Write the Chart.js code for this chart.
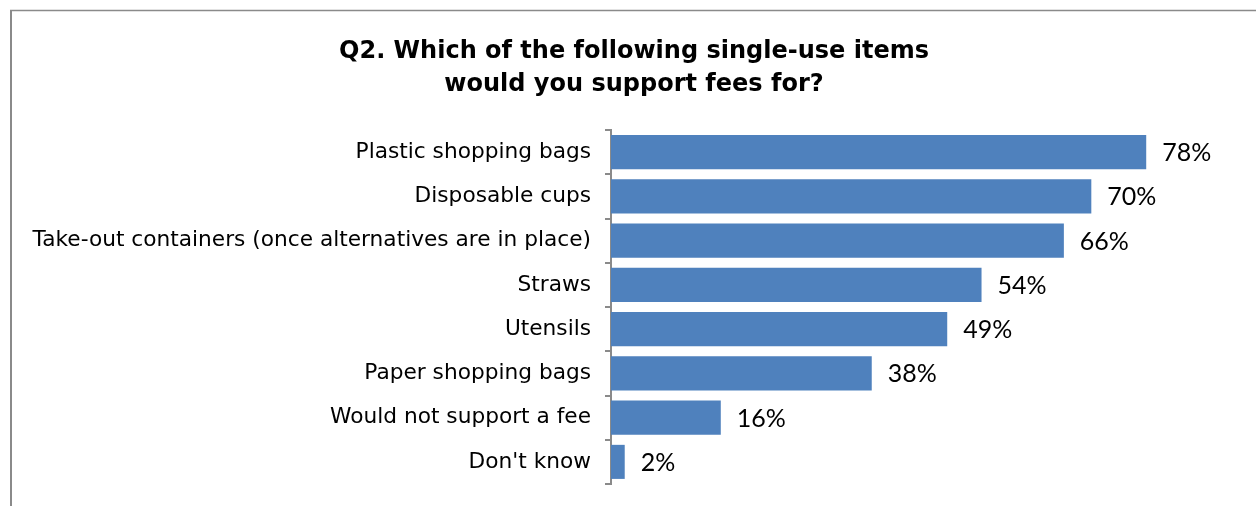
<!DOCTYPE html>
<html>
<head>
<meta charset="utf-8">
<script src="https://cdn.jsdelivr.net/npm/chart.js@4/dist/chart.umd.min.js"></script>
<style>
  html, body { margin: 0; padding: 0; background: #fff; overflow: hidden; }
  canvas { display: block; }
</style>
</head>
<body>
<canvas id="chart" width="1256" height="506"></canvas>
<script>
// survey answers, percent of respondents
const items = [
    'Plastic shopping bags',
    'Disposable cups',
    'Take-out containers (once alternatives are in place)',
    'Straws',
    'Utensils',
    'Paper shopping bags',
    'Would not support a fee',
    "Don't know"
];
const percents = [78, 70, 66, 54, 49, 38, 16, 2];
const titleLines = ['Q2. Which of the following single-use items', 'would you support fees for?'];

// gray frame along the top and left edge
const framePlugin = {
    id: 'frame',
    beforeDraw(chart) {
        const ctx = chart.ctx;
        ctx.save();
        ctx.strokeStyle = '#8a8a8a';
        ctx.lineWidth = 2;
        ctx.beginPath();
        ctx.moveTo(11, chart.height);
        ctx.lineTo(11, 10);
        ctx.stroke();
        ctx.lineWidth = 1.5;
        ctx.beginPath();
        ctx.moveTo(10, 10.5);
        ctx.lineTo(chart.width, 10.5);
        ctx.stroke();
        ctx.restore();
    }
};

// percentage text to the right of each bar
const valueLabels = {
    id: 'valueLabels',
    afterDatasetsDraw(chart) {
        const ctx = chart.ctx;
        const meta = chart.getDatasetMeta(0);
        ctx.save();
        ctx.font = '25px Lato, "Open Sans", sans-serif';
        ctx.fillStyle = '#000';
        ctx.textAlign = 'left';
        ctx.textBaseline = 'middle';
        meta.data.forEach((bar, i) => {
            ctx.fillText(percents[i] + '%', bar.x + 16, bar.y + 1);
        });
        ctx.restore();
    }
};

new Chart(document.getElementById('chart'), {
    type: 'bar',
    data: {
        labels: items,
        datasets: [{
            data: percents,
            backgroundColor: '#4f81bd',
            borderWidth: 0,
            barPercentage: 0.77,
            categoryPercentage: 1.0
        }]
    },
    options: {
        indexAxis: 'y',
        responsive: false,
        animation: false,
        layout: { padding: { left: 12, right: 0, top: 0, bottom: 22 } },
        plugins: {
            legend: { display: false },
            tooltip: { enabled: false },
            title: {
                display: true,
                text: titleLines,
                color: '#000',
                font: { family: '"DejaVu Sans", sans-serif', size: 24, weight: 'bold', lineHeight: 1.375 },
                padding: { top: 35, bottom: 29 }
            }
        },
        scales: {
            x: {
                display: false,
                min: 0,
                max: 94
            },
            y: {
                afterFit(scale) {
                    // fixed axis width, and no extra room reserved for edge labels
                    scale.width = 599;
                    scale.paddingTop = 0;
                    scale.paddingBottom = 0;
                },
                border: { display: true, color: '#8a8a8a', width: 2 },
                grid: {
                    offset: true,
                    drawOnChartArea: false,
                    drawTicks: true,
                    tickLength: 6,
                    color: '#8a8a8a',
                    lineWidth: 2
                },
                ticks: {
                    color: '#000',
                    padding: 14,
                    font: { family: '"DejaVu Sans", sans-serif', size: 21.7 }
                }
            }
        }
    },
    plugins: [framePlugin, valueLabels]
});
</script>
</body>
</html>
